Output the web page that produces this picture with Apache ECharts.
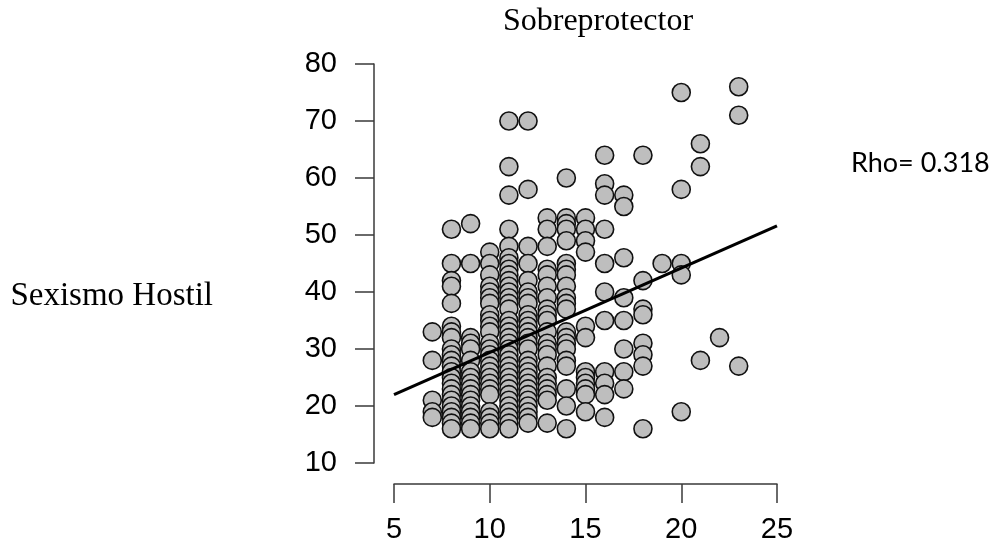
<!DOCTYPE html>
<html>
<head>
<meta charset="utf-8">
<script src="https://cdn.jsdelivr.net/npm/echarts@6/dist/echarts.min.js"></script>
<style>html,body{margin:0;padding:0;background:#fff;}#c{width:991px;height:552px;}</style>
</head>
<body>
<div id="c"></div>
<script>
// Column x values (Sobreprotector) and the Sexismo Hostil values read per column
const colX = [7, 8, 9, 10, 11, 12, 13, 14, 15, 16, 17, 18, 19, 20, 21, 22, 23];
const colY = [
  [33, 28, 21, 19, 18],
  [51, 45, 42, 41, 38, 34, 33, 32, 30, 29, 28, 27, 26, 25, 24, 23, 22, 21, 20, 19, 18, 17, 16],
  [52, 45, 32, 31, 30, 28, 26, 25, 24, 23, 22, 21, 20, 19, 18, 17, 16],
  [47, 45, 43, 41, 40, 39, 38, 36, 35, 34, 33, 31, 30, 29, 28, 27, 26, 25, 24, 23, 22, 19, 18, 17, 16],
  [70, 62, 57, 51, 48, 46, 45, 44, 43, 42, 41, 40, 39, 38, 37, 35, 34, 33, 32, 31, 30, 29, 28, 27, 26, 25, 24, 23, 22, 21, 20, 19, 18, 17, 16],
  [70, 58, 48, 45, 42, 40, 39, 38, 36, 35, 34, 33, 32, 31, 30, 28, 27, 26, 25, 24, 23, 22, 21, 20, 19, 18, 17],
  [53, 51, 48, 44, 43, 41, 39, 37, 36, 35, 33, 31, 30, 29, 27, 25, 24, 23, 22, 21, 17],
  [60, 53, 52, 51, 49, 45, 44, 43, 41, 39, 38, 37, 33, 32, 31, 30, 28, 27, 23, 20, 16],
  [53, 51, 49, 47, 34, 32, 26, 25, 24, 23, 22, 19],
  [64, 59, 57, 51, 45, 40, 35, 26, 24, 22, 18],
  [57, 55, 46, 39, 35, 30, 26, 23],
  [64, 42, 37, 36, 31, 29, 27, 16],
  [45],
  [75, 58, 45, 43, 19],
  [66, 62, 28],
  [32],
  [76, 71, 27]
];
// Fitted line end points
const lineX = [5, 25];
const lineY = [22.0, 51.6];
const xTicks = [5, 10, 15, 20, 25];
const yTicks = [10, 20, 30, 40, 50, 60, 70, 80];
const titleText = 'Sobreprotector';
const yName = 'Sexismo Hostil';
const rhoText = 'Rho= 0.318';

const points = [];
colX.forEach((x, i) => colY[i].forEach(y => points.push([x, y])));

const chart = echarts.init(document.getElementById('c'));
chart.setOption({
  animation: false,
  backgroundColor: '#ffffff',
  grid: { left: 394, right: 214, top: 64, bottom: 89 },
  xAxis: {
    type: 'value', min: 5, max: 25, interval: 5, offset: 21,
    axisLine: { show: true, lineStyle: { color: '#3a3a3a', width: 1.5 } },
    axisTick: { show: true, length: 19, lineStyle: { color: '#3a3a3a', width: 1.5 } },
    axisLabel: { margin: 31, color: '#000', fontFamily: 'Liberation Sans', fontSize: 29 },
    splitLine: { show: false }
  },
  yAxis: {
    type: 'value', min: 10, max: 80, interval: 10, offset: 20,
    axisLine: { show: true, lineStyle: { color: '#3a3a3a', width: 1.5 } },
    axisTick: { show: true, length: 19, lineStyle: { color: '#3a3a3a', width: 1.5 } },
    axisLabel: { margin: 37, color: '#000', fontFamily: 'Liberation Sans', fontSize: 29 },
    splitLine: { show: false }
  },
  series: [
    {
      type: 'scatter', data: points, symbol: 'circle', symbolSize: 18,
      itemStyle: { color: '#bebebe', borderColor: '#111', borderWidth: 1.6, opacity: 1 },
      z: 2
    },
    {
      type: 'line', data: lineX.map((x, i) => [x, lineY[i]]), symbol: 'none',
      lineStyle: { color: '#000', width: 3.2 }, z: 3
    }
  ],
  graphic: [
    { type: 'text', style: { text: titleText, x: 598, y: 22, textAlign: 'center', textVerticalAlign: 'middle', font: '32px "Liberation Serif"', fill: '#000' } },
    { type: 'text', style: { text: yName, x: 213, y: 296, textAlign: 'right', textVerticalAlign: 'middle', font: '33px "Liberation Serif"', fill: '#000' } },
    { type: 'text', style: { text: rhoText, x: 851, y: 163, textAlign: 'left', textVerticalAlign: 'middle', font: '27px Lato', fill: '#000' } }
  ]
});
</script>
</body>
</html>
